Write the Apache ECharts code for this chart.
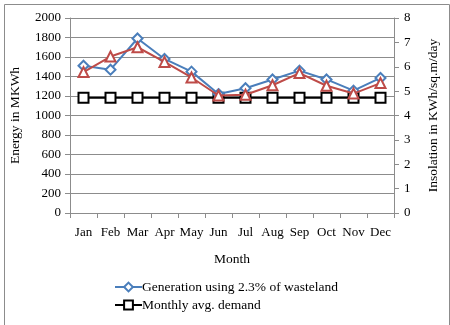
<!DOCTYPE html>
<html>
<head>
<meta charset="utf-8">
<script src="https://cdn.jsdelivr.net/npm/echarts@6/dist/echarts.min.js"></script>
<style>
html,body{margin:0;padding:0;background:#fff;}
#chart{width:450px;height:325px;}
</style>
</head>
<body>
<div id="chart"></div>
<script>
// Monthly energy generation vs demand, with insolation on a secondary axis
const months = ['Jan','Feb','Mar','Apr','May','Jun','Jul','Aug','Sep','Oct','Nov','Dec'];
const generation = [1510, 1470, 1790, 1580, 1450, 1220, 1280, 1370, 1460, 1370, 1255, 1385];
const demand = [1183, 1183, 1183, 1183, 1183, 1183, 1183, 1183, 1183, 1183, 1183, 1183];
const insolation = [5.78, 6.42, 6.80, 6.20, 5.56, 4.82, 4.85, 5.24, 5.74, 5.22, 4.90, 5.33];
const leftTicks = {min: 0, max: 2000, interval: 200};
const rightTicks = {min: 0, max: 8, interval: 1};

const font = 'Liberation Serif';
const textColor = '#000';
const gridGray = '#8c8c8c';
const plain = v => String(v);

const chart = echarts.init(document.getElementById('chart'), null, {renderer: 'canvas'});
chart.setOption({
  animation: false,
  textStyle: {fontFamily: font, color: textColor},
  graphic: [{
    type: 'rect', left: 2, top: 2,
    shape: {width: 445, height: 321},
    style: {fill: 'none', stroke: '#8c8c8c', lineWidth: 1}
  }],
  grid: {left: 70, right: 56, top: 18, bottom: 112, containLabel: false},
  legend: {
    orient: 'vertical', left: 109, top: 275, itemGap: 4,
    itemWidth: 27, itemHeight: 11,
    data: ['Generation using 2.3% of wasteland', 'Monthly avg. demand'],
    textStyle: {fontFamily: font, fontSize: 13.5, color: textColor, padding: [0, 0, 0, -5]}
  },
  xAxis: {
    type: 'category', data: months, boundaryGap: true,
    name: 'Month', nameLocation: 'middle', nameGap: 39,
    nameTextStyle: {fontFamily: font, fontSize: 13.5, color: textColor},
    axisLine: {lineStyle: {color: gridGray}},
    axisTick: {show: true, length: 5, lineStyle: {color: gridGray}},
    axisLabel: {fontFamily: font, fontSize: 13, color: textColor, margin: 13, interval: 0}
  },
  yAxis: [{
    type: 'value', position: 'left',
    min: leftTicks.min, max: leftTicks.max, interval: leftTicks.interval,
    name: 'Energy in MKWh', nameLocation: 'middle', nameGap: 48, nameRotate: 90,
    nameTextStyle: {fontFamily: font, fontSize: 13.5, color: textColor},
    axisLine: {show: true, lineStyle: {color: gridGray}},
    axisTick: {show: true, length: 5, lineStyle: {color: gridGray}},
    axisLabel: {fontFamily: font, fontSize: 13, color: textColor, margin: 9, formatter: plain},
    splitLine: {show: true, lineStyle: {color: gridGray, width: 1}}
  }, {
    type: 'value', position: 'right',
    min: rightTicks.min, max: rightTicks.max, interval: rightTicks.interval,
    name: 'Insolation in KWh/sq.m/day', nameLocation: 'middle', nameGap: 32, nameRotate: 90,
    nameTextStyle: {fontFamily: font, fontSize: 13.5, color: textColor},
    axisLine: {show: true, lineStyle: {color: gridGray}},
    axisTick: {show: true, length: 5, lineStyle: {color: gridGray}},
    axisLabel: {fontFamily: font, fontSize: 13, color: textColor, margin: 10, formatter: plain},
    splitLine: {show: false}
  }],
  series: [{
    name: 'Generation using 2.3% of wasteland', type: 'line', yAxisIndex: 0,
    data: generation, symbol: 'diamond', symbolSize: 10,
    lineStyle: {color: '#4a7ebb', width: 2},
    itemStyle: {color: '#fff', borderColor: '#4a7ebb', borderWidth: 2},
    z: 3
  }, {
    name: 'Insolation', type: 'line', yAxisIndex: 1,
    data: insolation, symbol: 'triangle', symbolSize: 10,
    lineStyle: {color: '#be4b48', width: 2},
    itemStyle: {color: '#fff', borderColor: '#be4b48', borderWidth: 2},
    z: 4
  }, {
    name: 'Monthly avg. demand', type: 'line', yAxisIndex: 0,
    data: demand, symbol: 'rect', symbolSize: 10,
    lineStyle: {color: '#000', width: 2},
    itemStyle: {color: '#fff', borderColor: '#000', borderWidth: 2},
    z: 2
  }]
});
</script>
</body>
</html>
